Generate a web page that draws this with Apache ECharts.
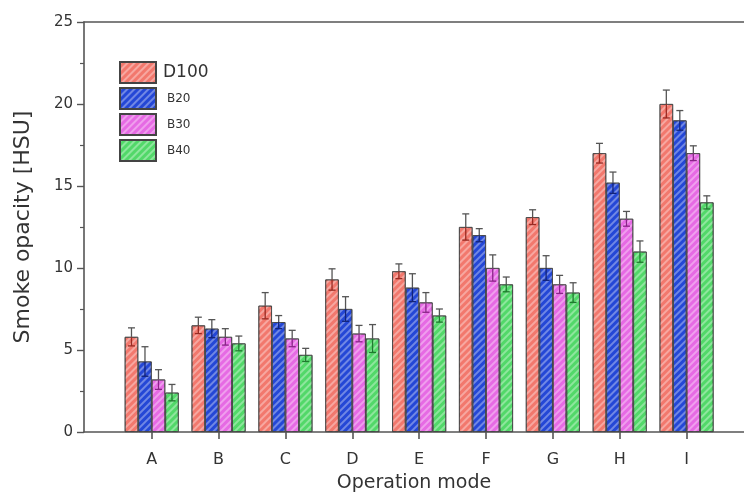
<!DOCTYPE html>
<html>
<head>
<meta charset="utf-8">
<script src="https://cdn.jsdelivr.net/npm/echarts@6/dist/echarts.min.js"></script>
<style>
  html, body { margin: 0; padding: 0; background: #fff; }
  #main { width: 744px; height: 495px; }
</style>
</head>
<body>
<div id="main"></div>
<script>
const modes = ["A", "B", "C", "D", "E", "F", "G", "H", "I"];
const seriesNames = ["D100", "B20", "B30", "B40"];
const yTicks = [0, 5, 10, 15, 20, 25];

const d100 = [5.8, 6.5, 7.7, 9.3, 9.8, 12.5, 13.1, 17.0, 20.0];
const b20 = [4.3, 6.3, 6.7, 7.5, 8.8, 12.0, 10.0, 15.2, 19.0];
const b30 = [3.2, 5.8, 5.7, 6.0, 7.9, 10.0, 9.0, 13.0, 17.0];
const b40 = [2.4, 5.4, 4.7, 5.7, 7.1, 9.0, 8.5, 11.0, 14.0];

const d100Err = [0.55, 0.5, 0.8, 0.65, 0.45, 0.8, 0.45, 0.6, 0.85];
const b20Err = [0.9, 0.55, 0.4, 0.75, 0.85, 0.4, 0.75, 0.65, 0.6];
const b30Err = [0.6, 0.5, 0.5, 0.5, 0.6, 0.8, 0.55, 0.45, 0.45];
const b40Err = [0.5, 0.45, 0.4, 0.85, 0.4, 0.45, 0.6, 0.65, 0.4];

const values = [d100, b20, b30, b40];
const errors = [d100Err, b20Err, b30Err, b40Err];
const colors = ["#f2786d", "#2447d6", "#e66ae4", "#52d869"];
const darkColors = ["#9a2a22", "#12237a", "#8a2488", "#1f7a2e"];

const barW = 13.5;
const font = "DejaVu Sans";
const axisColor = "#555";
const textColor = "#333";

const chart = echarts.init(document.getElementById("main"));

const bars = seriesNames.map((name, i) => ({
    name: name,
    type: "bar",
    xAxisIndex: 2,
    yAxisIndex: 1,
    barWidth: barW,
    barGap: "0%",
    data: values[i],
    itemStyle: {
        color: colors[i],
        borderColor: "#444",
        borderWidth: 0.8,
        decal: {
            symbol: "rect",
            symbolSize: 1,
            dashArrayX: [1, 0],
            dashArrayY: [1.2, 2.6],
            rotation: -Math.PI / 4,
            color: "rgba(255,255,255,0.35)",
        },
    },
    emphasis: { disabled: true },
}));

const errBars = seriesNames.map((name, i) => ({
    type: "custom",
    xAxisIndex: 2,
    yAxisIndex: 1,
    silent: true,
    z: 5,
    data: values[i].map((v, k) => [k, v, errors[i][k]]),
    renderItem(params, api) {
        const x = api.value(0);
        const v = api.value(1);
        const e = api.value(2);
        const off = (i - 1.5) * barW;
        const top = api.coord([x, v + e]);
        const mid = api.coord([x, v]);
        const low = api.coord([x, v - e]);
        const cx = top[0] + off;
        const cap = 3.5;
        return {
            type: "group",
            children: [
                { type: "line", shape: { x1: cx, y1: top[1], x2: cx, y2: mid[1] }, style: { stroke: "#555", lineWidth: 1.3 } },
                { type: "line", shape: { x1: cx - cap, y1: top[1], x2: cx + cap, y2: top[1] }, style: { stroke: "#555", lineWidth: 1.3 } },
                { type: "line", shape: { x1: cx, y1: mid[1], x2: cx, y2: low[1] }, style: { stroke: darkColors[i], lineWidth: 1.3 } },
                { type: "line", shape: { x1: cx - cap, y1: low[1], x2: cx + cap, y2: low[1] }, style: { stroke: darkColors[i], lineWidth: 1.3 } },
            ],
        };
    },
}));

const option = {
    backgroundColor: "#fff",
    animation: false,
    textStyle: { fontFamily: font },
    legend: {
        data: seriesNames,
        orient: "vertical",
        left: 114,
        top: 56,
        itemWidth: 36,
        itemHeight: 21,
        itemGap: 3,
        icon: "rect",
        formatter: (n) => (n === "D100" ? "{big|" + n + "}" : "{small|" + n + "}"),
        textStyle: {
            color: textColor,
            fontFamily: font,
            rich: {
                big: { fontSize: 17, fontFamily: font, color: textColor, padding: [0, 0, 0, 2] },
                small: { fontSize: 12, fontFamily: font, color: textColor, padding: [0, 0, 0, 6] },
            },
        },
    },
    grid: [
        { left: 84, right: 0, top: 22, bottom: 63, outerBoundsMode: "none", containLabel: false },
        { left: 118.3, right: 24, top: 22, bottom: 63, outerBoundsMode: "none", containLabel: false },
    ],
    xAxis: [
        {
            type: "value",
            gridIndex: 0,
            min: 0,
            max: 1,
            position: "bottom",
            name: "Operation mode",
            nameLocation: "middle",
            nameGap: 42,
            nameTextStyle: { fontSize: 19, color: textColor, fontFamily: font },
            axisLine: { show: true, lineStyle: { color: axisColor, width: 1.6 } },
            axisTick: { show: false },
            axisLabel: { show: false },
            splitLine: { show: false },
        },
        {
            type: "value",
            gridIndex: 0,
            min: 0,
            max: 1,
            position: "top",
            axisLine: { show: true, lineStyle: { color: axisColor, width: 1.6 } },
            axisTick: { show: false },
            axisLabel: { show: false },
            splitLine: { show: false },
        },
        {
            type: "category",
            gridIndex: 1,
            data: modes,
            axisLine: { show: false },
            axisTick: { show: true, alignWithLabel: true, length: 7, lineStyle: { color: axisColor, width: 1.6 } },
            axisLabel: { fontSize: 16, color: textColor, fontFamily: font, margin: 20 },
            splitLine: { show: false },
        },
    ],
    yAxis: [
        {
            type: "value",
            gridIndex: 0,
            min: yTicks[0],
            max: yTicks[yTicks.length - 1],
            interval: yTicks[1] - yTicks[0],
            name: "Smoke opacity [HSU]",
            nameLocation: "middle",
            nameGap: 50,
            nameTextStyle: { fontSize: 22, color: textColor, fontFamily: font },
            axisLine: { show: true, lineStyle: { color: axisColor, width: 1.6 } },
            axisTick: { show: true, length: 7, lineStyle: { color: axisColor, width: 1.4 } },
            minorTick: { show: true, splitNumber: 2, length: 4, lineStyle: { color: axisColor, width: 1.2 } },
            axisLabel: { fontSize: 15, color: textColor, fontFamily: font, margin: 11 },
            splitLine: { show: false },
        },
        {
            type: "value",
            gridIndex: 1,
            min: yTicks[0],
            max: yTicks[yTicks.length - 1],
            show: false,
            splitLine: { show: false },
        },
    ],
    series: bars.concat(errBars),
};

chart.setOption(option);
</script>
</body>
</html>
